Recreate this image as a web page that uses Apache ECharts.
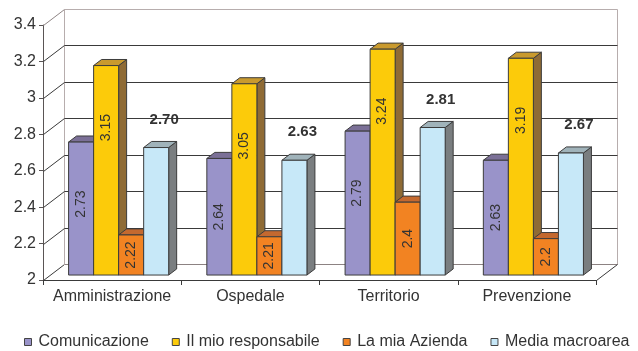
<!DOCTYPE html>
<html>
<head>
<meta charset="utf-8">
<script src="https://cdn.jsdelivr.net/npm/echarts@6/dist/echarts.min.js"></script>
<style>
  html, body { margin: 0; padding: 0; background: #ffffff; }
  #chart { width: 638px; height: 351px; }
</style>
</head>
<body>
<div id="chart"></div>
<script>
// Survey scores by area
const categories = ['Amministrazione', 'Ospedale', 'Territorio', 'Prevenzione'];
const seriesNames = ['Comunicazione', 'Il mio responsabile', 'La mia Azienda', 'Media macroarea'];
const comunicazione = [2.73, 2.64, 2.79, 2.63];
const mioResponsabile = [3.15, 3.05, 3.24, 3.19];
const miaAzienda = [2.22, 2.21, 2.4, 2.2];
const mediaMacroarea = [2.70, 2.63, 2.81, 2.67];
const yTicks = [2, 2.2, 2.4, 2.6, 2.8, 3, 3.2, 3.4];

const seriesValues = [comunicazione, mioResponsabile, miaAzienda, mediaMacroarea];

// Face colours of each column: front, top, side
const palette = [
  { front: '#9993c9', top: '#7b7097', side: '#5f567a' },
  { front: '#fccb0a', top: '#c99a2e', side: '#8f6b35' },
  { front: '#f28322', top: '#c4692f', side: '#96501f' },
  { front: '#c7e8f8', top: '#a0b3ba', side: '#7a7e80' }
];

// Depth of the box (back wall offset) and of the columns inside it
const DX = 21, DY = -16;
const F1 = 0.31, F2 = 0.69;     // front / back depth of a column as share of the box depth
const BAR_SHARE = 0.181;        // width of one column as share of a category band
const EDGE = '#3c3c3c';
const FONT = '"Liberation Sans", Arial, sans-serif';

const px = v => Math.round(v) + 0.5;

function line(x1, y1, x2, y2, color) {
  return {
    type: 'line',
    shape: { x1: px(x1), y1: px(y1), x2: px(x2), y2: px(y2) },
    style: { stroke: color, lineWidth: 1 }
  };
}

// Back wall, left wall grid and floor edges
function renderFrame(params, api) {
  const cs = params.coordSys;
  const v = api.value(1);
  const y = api.coord([0, v])[1];
  const xl = cs.x, xr = cs.x + cs.width;
  const isBottom = params.dataIndex === 0;
  const isTop = params.dataIndex === yTicks.length - 1;
  const backColor = isTop ? '#b7adad' : (isBottom ? '#8c8282' : '#3a3a3a');
  const diagColor = isTop ? '#8f8585' : '#3a3a3a';
  const children = [
    line(xl, y, xl + DX, y + DY, diagColor),
    line(xl + DX, y + DY, xr + DX, y + DY, backColor)
  ];
  if (isBottom) {
    const yTop = cs.y;
    children.push(line(xl + DX, yTop + DY, xl + DX, y + DY, '#b7adad'));
    children.push(line(xr + DX, yTop + DY, xr + DX, y + DY, '#b7adad'));
    children.push(line(xr, y, xr + DX, y + DY, '#3a3a3a'));
  }
  return { type: 'group', children: children };
}

function makeBarRenderer(sIdx) {
  const col = palette[sIdx];
  return function (params, api) {
    const cat = api.value(0);
    const v = api.value(1);
    const band = api.size([1, 0])[0];
    const barW = band * BAR_SHARE;
    const top = api.coord([cat, v]);
    const base = api.coord([cat, yTicks[0]]);
    const x0 = top[0] + (sIdx - 1.5) * barW - barW / 2 + F1 * DX;
    const yTop = top[1] + F1 * DY;
    const yBot = base[1] + F1 * DY;
    const ddx = (F2 - F1) * DX, ddy = (F2 - F1) * DY;
    const children = [
      {
        type: 'polygon',
        shape: { points: [[x0 + barW, yTop], [x0 + barW + ddx, yTop + ddy], [x0 + barW + ddx, yBot + ddy], [x0 + barW, yBot]] },
        style: { fill: col.side, stroke: EDGE, lineWidth: 1 }
      },
      {
        type: 'polygon',
        shape: { points: [[x0, yTop], [x0 + barW, yTop], [x0 + barW + ddx, yTop + ddy], [x0 + ddx, yTop + ddy]] },
        style: { fill: col.top, stroke: EDGE, lineWidth: 1 }
      },
      {
        type: 'rect',
        shape: { x: x0, y: yTop, width: barW, height: yBot - yTop },
        style: { fill: col.front, stroke: EDGE, lineWidth: 1 }
      }
    ];
    if (sIdx < 3) {
      const h = yBot - yTop;
      children.push({
        type: 'text',
        x: x0 + barW / 2,
        y: yTop + Math.min(62, h / 2),
        rotation: Math.PI / 2,
        style: {
          text: String(v),
          align: 'center',
          verticalAlign: 'middle',
          fill: '#333333',
          font: '14px ' + FONT
        }
      });
    } else {
      children.push({
        type: 'text',
        x: x0 + barW / 2 + ddx,
        y: yTop + ddy - 22,
        style: {
          text: v.toFixed(2),
          align: 'center',
          verticalAlign: 'middle',
          fill: '#333333',
          font: 'bold 15px ' + FONT
        }
      });
    }
    return { type: 'group', children: children };
  };
}

const chart = echarts.init(document.getElementById('chart'), null, { renderer: 'canvas' });

const barSeries = seriesNames.map((name, i) => ({
  name: name,
  type: 'custom',
  z: 3 + i,
  itemStyle: { color: palette[i].front },
  encode: { x: 0, y: 1 },
  data: seriesValues[i].map((v, k) => [k, v]),
  renderItem: makeBarRenderer(i)
}));

chart.setOption({
  animation: false,
  backgroundColor: '#ffffff',
  textStyle: { fontFamily: FONT },
  grid: { left: 43, right: 42, top: 25, bottom: 71 },
  xAxis: {
    type: 'category',
    data: categories,
    axisLine: { show: true, lineStyle: { color: '#3a3a3a', width: 1 } },
    axisTick: { show: true, length: 5, lineStyle: { color: '#3a3a3a' } },
    axisLabel: { color: '#333333', fontSize: 16, fontFamily: FONT, margin: 9, interval: 0 },
    splitLine: { show: false }
  },
  yAxis: {
    type: 'value',
    min: 2,
    max: 3.4,
    interval: 0.2,
    axisLine: { show: true, lineStyle: { color: '#5a5555', width: 1 } },
    axisTick: { show: true, length: 4, lineStyle: { color: '#5a5555' } },
    axisLabel: { color: '#333333', fontSize: 16, fontFamily: FONT, margin: 7 },
    splitLine: { show: false }
  },
  legend: {
    data: seriesNames,
    left: 24,
    top: 334,
    width: 614,
    padding: 0,
    icon: 'rect',
    itemWidth: 7,
    itemHeight: 7,
    itemGap: 23,
    itemStyle: { borderColor: '#444444', borderWidth: 1 },
    textStyle: { color: '#333333', fontSize: 16, fontFamily: FONT, lineHeight: 16, padding: [0, 0, 0, 2] }
  },
  series: [
    {
      name: 'frame',
      type: 'custom',
      z: 1,
      silent: true,
      encode: { x: 0, y: 1 },
      data: yTicks.map(v => [0, v]),
      renderItem: renderFrame
    }
  ].concat(barSeries)
});
</script>
</body>
</html>
